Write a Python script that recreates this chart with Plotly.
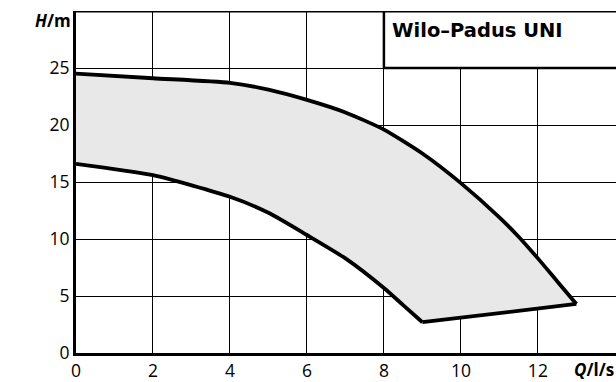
import plotly.graph_objects as go

# Data
upper_q = [0, 2, 4, 5, 6, 7, 8, 9, 10, 11, 11.5, 12, 12.5, 13.0]
upper_h = [24.5, 24.1, 23.7, 23.1, 22.2, 21.1, 19.6, 17.5, 14.9, 11.9, 10.2, 8.3, 6.3, 4.3]
lower_q = [0, 2, 4, 5, 6, 7, 8, 8.5, 9.0]
lower_h = [16.6, 15.6, 13.7, 12.3, 10.35, 8.3, 5.7, 4.2, 2.7]

x_ticks = [0, 2, 4, 6, 8, 10, 12]
y_ticks = [0, 5, 10, 15, 20, 25]
title_text = "Wilo–Padus UNI"

FONT = "Open Sans"

fig = go.Figure()

# Shaded operating range polygon
poly_x = upper_q + lower_q[::-1] + [upper_q[0]]
poly_y = upper_h + lower_h[::-1] + [upper_h[0]]
fig.add_trace(go.Scatter(x=poly_x, y=poly_y, mode="lines", fill="toself",
                         fillcolor="#e8e8e8", line=dict(width=0),
                         hoverinfo="skip", showlegend=False))

# Curves
fig.add_trace(go.Scatter(x=upper_q, y=upper_h, mode="lines",
                         line=dict(color="black", width=3.8, shape="spline", smoothing=0.6),
                         showlegend=False))
fig.add_trace(go.Scatter(x=lower_q, y=lower_h, mode="lines",
                         line=dict(color="black", width=3.8, shape="spline", smoothing=0.6),
                         showlegend=False))
fig.add_trace(go.Scatter(x=[lower_q[-1], upper_q[-1]], y=[lower_h[-1], upper_h[-1]],
                         mode="lines", line=dict(color="black", width=3.8),
                         showlegend=False))

XMAX = 14.03
YMAX = 30

fig.update_layout(
    width=616, height=382,
    margin=dict(l=76, r=0, t=11, b=29),
    paper_bgcolor="white", plot_bgcolor="white",
    font=dict(family=FONT, size=17.5, color="black"),
    xaxis=dict(range=[0, XMAX], tickvals=x_ticks, ticktext=[str(v) for v in x_ticks],
               showgrid=True, gridcolor="black", gridwidth=1.3,
               showline=True, linecolor="black", linewidth=3,
               zeroline=False, ticks="", ticklen=0, fixedrange=True, automargin=False),
    yaxis=dict(range=[0, YMAX], tickvals=y_ticks, ticktext=[str(v) for v in y_ticks],
               showgrid=True, gridcolor="black", gridwidth=1.3,
               showline=True, linecolor="black", linewidth=3,
               zeroline=False, ticks="", ticklen=0, fixedrange=True, automargin=False),
)

# Title box
fig.add_shape(type="rect", xref="x", yref="y", x0=8, x1=XMAX, y0=25, y1=YMAX,
              fillcolor="white", line=dict(width=0), layer="above")
fig.add_shape(type="line", xref="x", yref="y", x0=8, x1=8, y0=25, y1=YMAX,
              line=dict(color="black", width=2.5), layer="above")
fig.add_shape(type="line", xref="x", yref="y", x0=8, x1=XMAX, y0=25, y1=25,
              line=dict(color="black", width=2.5), layer="above")
# Top border
fig.add_shape(type="line", xref="x", yref="y", x0=0, x1=XMAX, y0=YMAX, y1=YMAX,
              line=dict(color="black", width=3), layer="above")

fig.add_annotation(x=8, y=28.3, xref="x", yref="y", xanchor="left", yanchor="middle",
                   xshift=6, text="<b>" + title_text + "</b>", showarrow=False,
                   font=dict(family="DejaVu Sans", size=19.5, color="black"))

# Axis titles
fig.add_annotation(x=0, y=29.2, xref="paper", yref="y", xanchor="right", yanchor="middle",
                   xshift=-3, text="<b><i>H</i>/m</b>", showarrow=False,
                   font=dict(family=FONT, size=17, color="black"))
fig.add_annotation(x=1, y=0, xref="paper", yref="paper", xanchor="right", yanchor="top",
                   xshift=0, yshift=-3, text="<b><i>Q</i>/l/s</b>", showarrow=False,
                   font=dict(family=FONT, size=17, color="black"))

fig.write_html("out.html", config={"displayModeBar": False},
               post_script="document.body.style.margin='0';document.body.style.overflow='hidden';")
